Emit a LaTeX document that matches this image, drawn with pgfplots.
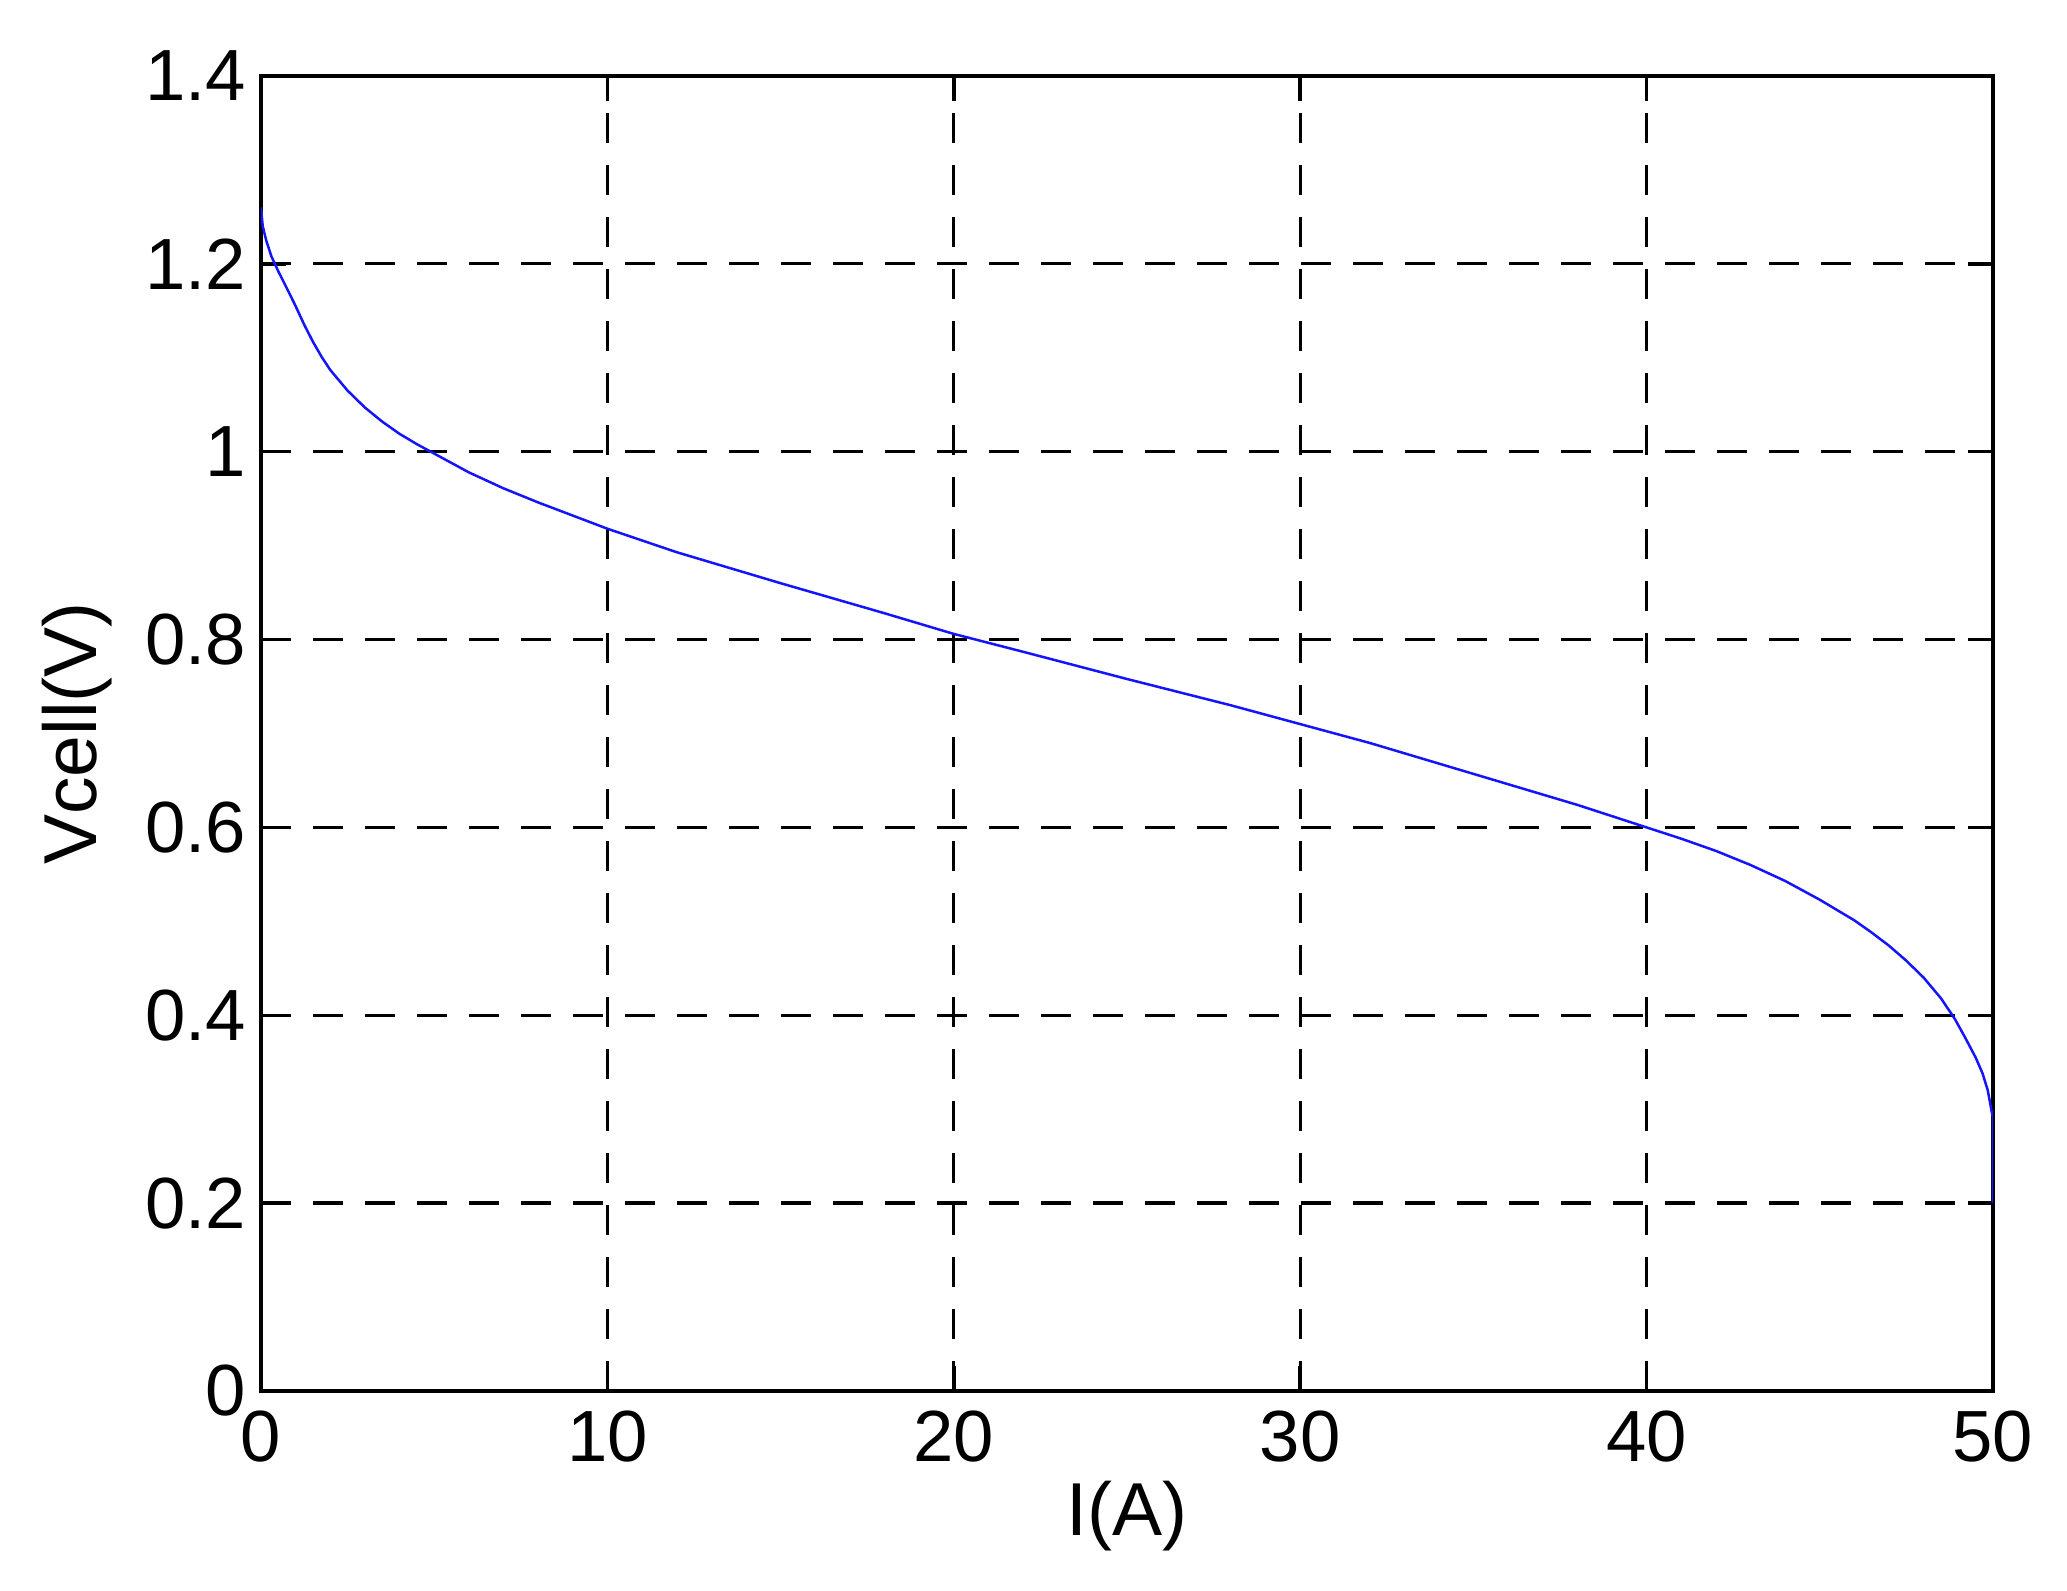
\documentclass[border=0pt]{standalone}
\usepackage{pgfplots}
\pgfplotsset{compat=1.18}
\usepackage{fontspec}
\setmainfont{Liberation Sans}

\begin{document}
\begin{tikzpicture}
\useasboundingbox (-52.2pt,-40pt) rectangle (361.2pt,278.2pt);
\begin{axis}[
    at={(0,0)}, anchor=south west,
    scale only axis,
    width=346.4pt, height=263pt,
    xmin=0, xmax=50, ymin=0, ymax=1.4,
    xtick={0,10,20,30,40,50},
    ytick={0,0.2,0.4,0.6,0.8,1,1.2,1.4},
    yticklabels={0,0.2,0.4,0.6,0.8,1,1.2,1.4},
    /pgf/number format/assume math mode=true,
    tick align=inside,
    tick pos=both,
    major tick length=5pt,
    tick style={black, line width=0.7pt},
    axis line style={line width=0.8pt},
    grid=major,
    major grid style={black, line width=0.65pt, dash pattern=on 6pt off 4.4pt},
    ticklabel style={font=\fontsize{14.5}{17}\selectfont},
    xticklabel style={yshift=-0.5pt},
    yticklabel style={xshift=0.5pt},
    xlabel={I(A)},
    ylabel={Vcell(V)},
    label style={font=\fontsize{15}{18}\selectfont},
    xlabel style={at={(axis description cs:0.5,-0.095)}, anchor=center},
    ylabel style={at={(axis description cs:-0.106,0.5)}, anchor=center},
]
\addplot[color={rgb,255:red,20;green,20;blue,255}, line width=0.5pt] coordinates {
    (0,1.26) (0.05,1.24) (0.15,1.225) (0.3,1.208) (0.5,1.192) (0.8,1.17)
    (1,1.155) (1.25,1.135) (1.5,1.117) (1.75,1.101) (2,1.087) (2.5,1.065)
    (3,1.047) (3.5,1.032) (4,1.019) (4.5,1.008) (5,0.998) (6,0.978)
    (7,0.961) (8,0.946) (9,0.932) (10,0.918) (12,0.893) (15,0.86)
    (18,0.828) (20,0.806) (22,0.787) (25,0.758) (28,0.73) (30,0.71)
    (32,0.69) (35,0.657) (38,0.624) (40,0.6) (41,0.588) (42,0.575)
    (43,0.56) (44,0.543) (45,0.523) (46,0.501) (46.5,0.488) (47,0.474)
    (47.5,0.458) (48,0.44) (48.5,0.418) (48.9,0.396) (49.2,0.376)
    (49.5,0.355) (49.7,0.338) (49.85,0.32) (49.95,0.30) (50,0.29) (50,0.2)
};
\end{axis}
\end{tikzpicture}
\end{document}
